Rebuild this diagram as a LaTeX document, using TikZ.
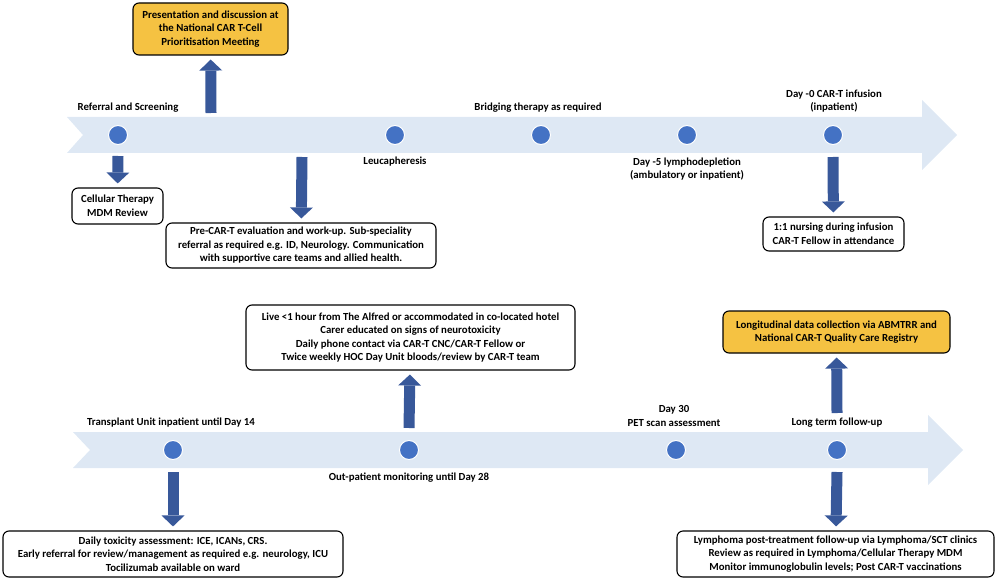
\documentclass[tikz,border=0pt]{standalone}
\usepackage{fontspec}
\setmainfont{Carlito}
\usetikzlibrary{arrows.meta}
\definecolor{bandblue}{HTML}{DEE8F4}
\definecolor{dotblue}{HTML}{4472C4}
\definecolor{arrowblue}{HTML}{38589A}
\definecolor{boxgold}{HTML}{F5C242}

\begin{document}
\begin{tikzpicture}[x=1pt,y=-1pt,
  every node/.style={font=\fontsize{10.8}{13.5}\selectfont\bfseries},
  dot/.style={circle,fill=dotblue,draw=white,line width=1pt,minimum size=19pt,inner sep=0pt},
  lbl/.style={align=center,inner sep=0pt},
  note/.style={draw=black,line width=1.1pt,rounded corners=6pt,align=center,fill=white,inner sep=2pt},
  gold/.style={note,fill=boxgold},
  blk/.style={draw=arrowblue,line width=11pt,-{Triangle[width=23pt,length=11pt,line width=0pt]},shorten >=4pt}]
  \useasboundingbox (0,0) rectangle (1000,580);
  \fill [bandblue] (67,117) -- (922,117) -- (922,100) -- (957,135) -- (922,170) -- (922,153) -- (67,153) -- (83,135) -- cycle;
  \fill [bandblue] (73,432) -- (928,432) -- (928,415) -- (963,450) -- (928,485) -- (928,468) -- (73,468) -- (90,450) -- cycle;
  \node [dot] (c1) at (118,135) {};
  \node [dot] (c2) at (395,135) {};
  \node [dot] (c3) at (541,135) {};
  \node [dot] (c4) at (687,135) {};
  \node [dot] (c5) at (833,135) {};
  \node [dot] (d1) at (173,450) {};
  \node [dot] (d2) at (409,450) {};
  \node [dot] (d3) at (676,450) {};
  \node [dot] (d4) at (837,450) {};
  \node [lbl] (referral) at (128,108) {Referral and Screening};
  \node [lbl] (bridging) at (538,108) {Bridging therapy as required};
  \node [lbl] (leuca) at (395,162) {Leucapheresis};
  \node [lbl] (lympho) at (687,169) {Day -5 lymphodepletion\\(ambulatory or inpatient)};
  \node [lbl] (infusion) at (834,101) {Day -0 CAR-T infusion\\(inpatient)};
  \node [lbl] (transplant) at (171,423) {Transplant Unit inpatient until Day 14};
  \node [lbl] (outpt) at (409,478) {Out-patient monitoring until Day 28};
  \node [lbl] (pet) at (674,416) {Day 30\\PET scan assessment};
  \node [lbl] (longterm) at (837,423) {Long term follow-up};
  \node [gold,minimum width=155pt,minimum height=52pt] (present) at (210.5,29) {Presentation and discussion at\\the National CAR T-Cell\\Prioritisation Meeting};
  \node [note,minimum width=91pt,minimum height=36pt] (mdm) at (117.5,206) {Cellular Therapy\\MDM Review};
  \node [note,minimum width=270pt,minimum height=45pt] (precart) at (301,245.5) {Pre-CAR-T evaluation and work-up. Sub-speciality\\referral as required e.g. ID, Neurology. Communication\\with supportive care teams and allied health.};
  \node [note,minimum width=141pt,minimum height=34pt] (nursing) at (833.5,234) {1:1 nursing during infusion\\CAR-T Fellow in attendance};
  \node [note,minimum width=340pt,minimum height=46pt] (toxicity) at (173,554) {Daily toxicity assessment: ICE, ICANs, CRS.\\Early referral for review/management as required e.g. neurology, ICU\\Tocilizumab available on ward};
  \node [note,minimum width=329pt,minimum height=65pt] (live) at (410.5,337.5) {Live <1 hour from The Alfred or accommodated in co-located hotel\\Carer educated on signs of neurotoxicity\\Daily phone contact via CAR-T CNC/CAR-T Fellow or\\Twice weekly HOC Day Unit bloods/review by CAR-T team};
  \node [gold,minimum width=227pt,minimum height=42pt] (registry) at (836.5,332) {Longitudinal data collection via ABMTRR and\\National CAR-T Quality Care Registry};
  \node [note,minimum width=317pt,minimum height=46pt] (followup) at (835.5,554) {Lymphoma post-treatment follow-up via Lymphoma/SCT clinics\\Review as required in Lymphoma/Cellular Therapy MDM\\Monitor immunoglobulin levels; Post CAR-T vaccinations};
  \coordinate (presentfoot) at (211,113);
  \coordinate (workupfoot) at (302,157);
  \draw [blk] (presentfoot) -- (present);
  \draw [blk] ([yshift=-21pt]c1.center) -- (mdm);
  \draw [blk] (workupfoot) -- (precart);
  \draw [blk] ([yshift=-22pt]c5.center) -- (nursing);
  \draw [blk] ([yshift=-22pt]d1.center) -- (toxicity);
  \draw [blk] ([yshift=22pt]d2.center) -- (live);
  \draw [blk] ([yshift=37pt]d4.center) -- (registry);
  \draw [blk] ([yshift=-22pt]d4.center) -- (followup);
\end{tikzpicture}
\end{document}
